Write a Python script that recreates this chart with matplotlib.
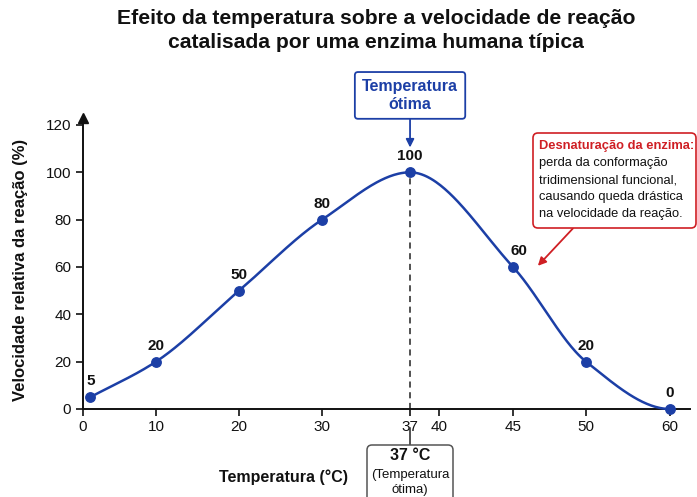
import numpy as np
import matplotlib
matplotlib.use("Agg")
import matplotlib.pyplot as plt
from matplotlib.patches import FancyBboxPatch

plt.rcParams['font.family'] = ['Liberation Sans', 'DejaVu Sans']

# --- dados ---
temperatura = [1, 10, 20, 30, 37, 45, 50, 60]
velocidade = [5, 20, 50, 80, 100, 60, 20, 0]
x_ticks = [0, 10, 20, 30, 37, 40, 45, 50, 60]
y_ticks = [0, 20, 40, 60, 80, 100, 120]

titulo = "Efeito da temperatura sobre a velocidade de reação\ncatalisada por uma enzima humana típica"
nota_vermelha = "Desnaturação da enzima:"
nota_texto = ("perda da conformação\ntridimensional funcional,\n"
              "causando queda drástica\nna velocidade da reação.")

AZUL = "#1c3fa6"
VERMELHO = "#cf1f24"
PRETO = "#111111"
W, H = 697, 497

# eixo x não linear: posições (px) lidas das marcas do gráfico
knots = np.array([-10, 0, 10, 20, 30, 37, 40, 45, 50, 60, 80])
knot_px = np.array([10, 83, 156, 239, 322, 410, 439, 513, 586, 670, 836], dtype=float)


def fwd(x):
    return np.interp(x, knots, knot_px)


def inv(p):
    return np.interp(p, knot_px, knots)


def pchip(x, y, xs):
    """Interpolação cúbica monotônica (suaviza a curva entre os pontos)."""
    x = np.asarray(x, float)
    y = np.asarray(y, float)
    h = np.diff(x)
    d = np.diff(y) / h
    m = np.zeros_like(y)
    for k in range(1, len(x) - 1):
        if d[k - 1] * d[k] > 0:
            w1 = 2 * h[k] + h[k - 1]
            w2 = h[k] + 2 * h[k - 1]
            m[k] = (w1 + w2) / (w1 / d[k - 1] + w2 / d[k])
    m[0] = d[0]
    m[-1] = 0.0
    out = np.empty_like(xs)
    idx = np.clip(np.searchsorted(x, xs) - 1, 0, len(x) - 2)
    for j, xv in enumerate(xs):
        k = idx[j]
        t = (xv - x[k]) / h[k]
        h00 = 2 * t**3 - 3 * t**2 + 1
        h10 = t**3 - 2 * t**2 + t
        h01 = -2 * t**3 + 3 * t**2
        h11 = t**3 - t**2
        out[j] = h00 * y[k] + h10 * h[k] * m[k] + h01 * y[k + 1] + h11 * h[k] * m[k + 1]
    return out


def caixa(ax, x0, y_top, w, h, ec, lw):
    """Caixa arredondada em pixels (origem no canto superior esquerdo)."""
    p = FancyBboxPatch((x0 / W, (H - y_top - h) / H), w / W, h / H,
                       boxstyle='round,pad=0,rounding_size=%f' % (5 / W),
                       mutation_aspect=W / H, transform=fig.transFigure,
                       fc='white', ec=ec, lw=lw, zorder=5, clip_on=False)
    ax.add_patch(p)


fig = plt.figure(figsize=(W / 100, H / 100), dpi=100)
ax = fig.add_axes([83 / W, 88 / H, (690 - 83) / W, (409 - 125) / H])
ax.set_xscale('function', functions=(fwd, inv))
ax.set_xlim(0, 62.4)
ax.set_ylim(0, 120)

# curva suave no espaço de exibição
tp = fwd(np.array(temperatura, float))
ts = np.linspace(tp[0], tp[-1], 400)
ax.plot(inv(ts), pchip(tp, velocidade, ts), color=AZUL, lw=1.8, zorder=3, clip_on=False)
ax.plot(temperatura, velocidade, 'o', color=AZUL, ms=6.8, zorder=4, clip_on=False)

for xv, yv in zip(temperatura, velocidade):
    dx = 4 if xv == 45 else 0
    ax.annotate(str(yv), (xv, yv), xytext=(dx, 6.5), textcoords='offset points',
                ha='center', va='bottom', fontsize=11, fontweight='bold', color=PRETO)

# linha tracejada em 37
ax.plot([37, 37], [0, 100], ls=(0, (4, 3)), color='#222222', lw=1.1, zorder=2)
ax.plot([37, 37], [-8.2, -15.2], color='#222222', lw=1.1, clip_on=False)

# eixos
for s in ['top', 'right']:
    ax.spines[s].set_visible(False)
for s in ['left', 'bottom']:
    ax.spines[s].set_linewidth(1.4)
    ax.spines[s].set_color(PRETO)
ax.spines['left'].set_bounds(0, 121)
ax.plot([0], [123], marker='^', color=PRETO, ms=7, clip_on=False)
ax.set_xticks(x_ticks)
ax.set_xticklabels([str(t) for t in x_ticks])
ax.set_yticks(y_ticks)
ax.tick_params(axis='both', labelsize=11, length=5, width=1.2, color=PRETO, labelcolor=PRETO)
ax.tick_params(axis='x', pad=3)

ax.set_ylabel("Velocidade relativa da reação (%)", fontsize=12, fontweight='bold', color=PRETO)
ax.yaxis.set_label_coords(-0.09, 0.49)
ax.text(0.33, -0.24, "Temperatura (°C)", transform=ax.transAxes, ha='center', va='center',
        fontsize=11.5, fontweight='bold', color=PRETO)

fig.text(0.54, 0.982, titulo, ha='center', va='top', fontsize=15.2, fontweight='bold',
         linespacing=1.35, color=PRETO)

# caixa "Temperatura ótima"
ax.annotate("Temperatura\nótima", xy=(37, 110.5), xytext=(37, 132.5),
            ha='center', va='center', fontsize=11.5, fontweight='bold', color=AZUL,
            annotation_clip=False,
            bbox=dict(boxstyle='round,pad=0.45,rounding_size=0.2', fc='white', ec=AZUL, lw=1.3),
            arrowprops=dict(arrowstyle='-|>', color=AZUL, lw=1.3, mutation_scale=12,
                            shrinkA=0, shrinkB=0))

# caixa "37 °C" abaixo do eixo
caixa(ax, 367, 445, 86, 60, '#555555', 1.1)
ax.text(37, -16.6, "37 °C", ha='center', va='top', fontsize=11.5, fontweight='bold',
        color=PRETO, zorder=6)
ax.text(37, -25.3, "(Temperatura\nótima)", ha='center', va='top', fontsize=9.5,
        color=PRETO, linespacing=1.35, zorder=6)

# nota de desnaturação
caixa(ax, 533, 133, 163, 95, VERMELHO, 1.2)
ax.text(46.8, 113.7, nota_vermelha, ha='left', va='top', fontsize=9.3, color=VERMELHO,
        fontweight='bold', zorder=6)
ax.text(46.8, 106.3, nota_texto, ha='left', va='top', fontsize=9.3,
        color=PRETO, linespacing=1.55, zorder=6)
ax.annotate("", xy=(46.7, 60.5), xytext=(49.1, 76.3), annotation_clip=False,
            arrowprops=dict(arrowstyle='-|>', color=VERMELHO, lw=1.3, mutation_scale=12,
                            shrinkA=0, shrinkB=0))

fig.savefig("out.png", dpi=100)
